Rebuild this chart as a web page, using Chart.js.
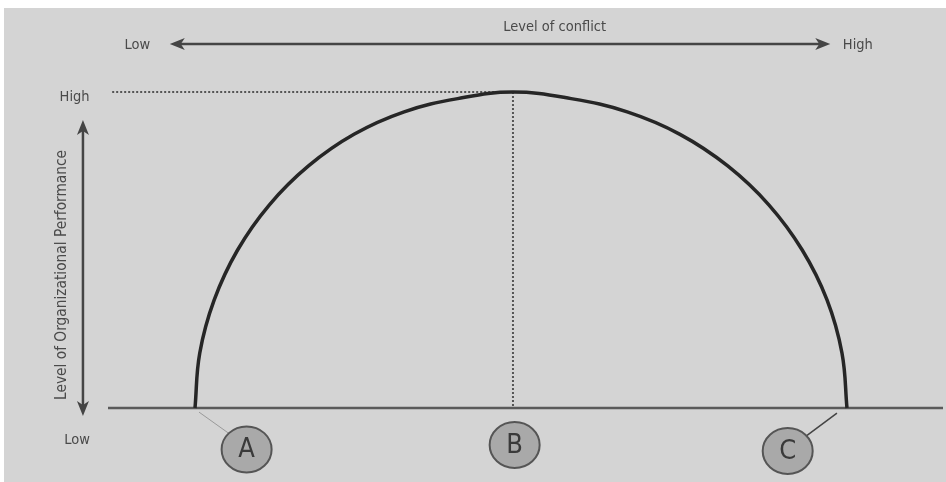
<!DOCTYPE html>
<html>
<head>
<meta charset="utf-8">
<script src="https://cdn.jsdelivr.net/npm/chart.js@4"></script>
<style>
  html, body { margin: 0; padding: 0; background: #fff; }
  canvas { display: block; }
</style>
</head>
<body>
<canvas id="myChart" width="946" height="482"></canvas>
<script>
// values: level of conflict (0-100) vs performance (0-100)
var conflictLevel = [10.42, 10.99, 12.72, 15.52, 19.33, 24.01, 29.46, 35.47, 41.88, 48.5, 55.46, 62.18, 68.5, 74.22, 79.14, 83.14, 86.11, 87.9, 88.5];
var performance   = [0, 17.4, 34.2, 50.0, 64.3, 76.6, 86.6, 93.7, 97.9, 100, 97.9, 93.7, 86.6, 76.6, 64.3, 50.0, 34.2, 17.4, 0];
var zoneLabels = ['A', 'B', 'C'];
var levelLabels = ['Low', 'High'];
var xTitle = 'Level of conflict';
var yTitle = 'Level of Organizational Performance';

var FONT = '"Liberation Sans Narrow", "DejaVu Sans Condensed", "Liberation Sans", sans-serif';
var TEXT = '#4a4a4a';

function arrowHead(ctx, x, y, angle) {
  ctx.save();
  ctx.translate(x, y);
  ctx.rotate(angle);
  ctx.beginPath();
  ctx.moveTo(0, 0);
  ctx.lineTo(-15, -6);
  ctx.lineTo(-11, 0);
  ctx.lineTo(-15, 6);
  ctx.closePath();
  ctx.fill();
  ctx.restore();
}

var decor = {
  id: 'decor',
  beforeDraw: function(chart) {
    var ctx = chart.ctx;
    ctx.save();
    ctx.fillStyle = '#fff';
    ctx.fillRect(0, 0, chart.width, chart.height);
    ctx.fillStyle = '#d4d4d4';
    ctx.fillRect(4, 8, chart.width - 4, chart.height - 8);
    ctx.restore();
  },
  beforeDatasetsDraw: function(chart) {
    var ctx = chart.ctx, sx = chart.scales.x, sy = chart.scales.y;
    var peak = performance.indexOf(Math.max.apply(null, performance));
    var pkx = sx.getPixelForValue(conflictLevel[peak]);
    var pky = sy.getPixelForValue(performance[peak]);
    ctx.save();
    // baseline
    ctx.strokeStyle = '#5a5a5a';
    ctx.lineWidth = 2.5;
    ctx.beginPath();
    ctx.moveTo(sx.getPixelForValue(0), sy.getPixelForValue(0));
    ctx.lineTo(sx.getPixelForValue(100), sy.getPixelForValue(0));
    ctx.stroke();
    // dotted guides to the peak
    ctx.strokeStyle = '#555';
    ctx.lineWidth = 2;
    ctx.setLineDash([2, 2]);
    ctx.beginPath();
    ctx.moveTo(sx.getPixelForValue(0.5), pky);
    ctx.lineTo(pkx, pky);
    ctx.moveTo(pkx, pky);
    ctx.lineTo(pkx, sy.getPixelForValue(0));
    ctx.stroke();
    ctx.restore();
  },
  afterDatasetsDraw: function(chart) {
    var ctx = chart.ctx, sx = chart.scales.x, sy = chart.scales.y;
    function X(v) { return sx.getPixelForValue(v); }
    function Y(v) { return sy.getPixelForValue(v); }
    ctx.save();

    // top double arrow
    ctx.strokeStyle = '#454545';
    ctx.fillStyle = '#454545';
    ctx.lineWidth = 2.5;
    var ty = Y(115.2), tx0 = X(7.4), tx1 = X(86.5);
    ctx.beginPath();
    ctx.moveTo(tx0 + 8, ty);
    ctx.lineTo(tx1 - 8, ty);
    ctx.stroke();
    arrowHead(ctx, tx0, ty, Math.PI);
    arrowHead(ctx, tx1, ty, 0);

    // left double arrow
    var lx = X(-3.0), ly0 = Y(91.1), ly1 = Y(-2.5);
    ctx.beginPath();
    ctx.moveTo(lx, ly0 + 8);
    ctx.lineTo(lx, ly1 - 8);
    ctx.stroke();
    arrowHead(ctx, lx, ly0, -Math.PI / 2);
    arrowHead(ctx, lx, ly1, Math.PI / 2);

    // texts
    ctx.fillStyle = TEXT;
    ctx.font = '14.5px ' + FONT;
    ctx.textAlign = 'center';
    ctx.textBaseline = 'middle';
    ctx.fillText(xTitle, X(53.5), Y(120.6));
    ctx.fillText(levelLabels[0], X(3.5), Y(114.9));
    ctx.fillText(levelLabels[1], X(89.8), Y(114.9));
    ctx.fillText(levelLabels[1], X(-4.0), Y(98.4));
    ctx.fillText(levelLabels[0], X(-3.7), Y(-10.1));
    ctx.save();
    ctx.translate(X(-5.5), Y(42.1));
    ctx.rotate(-Math.PI / 2);
    ctx.font = '15.3px ' + FONT;
    ctx.fillText(yTitle, 0, 0);
    ctx.restore();

    // connectors to zone markers
    ctx.strokeStyle = '#9a9a9a';
    ctx.lineWidth = 1;
    ctx.beginPath();
    ctx.moveTo(X(10.9), Y(-1.3));
    ctx.lineTo(X(14.4), Y(-7.9));
    ctx.stroke();
    ctx.strokeStyle = '#444';
    ctx.lineWidth = 1.5;
    ctx.beginPath();
    ctx.moveTo(X(87.3), Y(-1.6));
    ctx.lineTo(X(83.6), Y(-8.9));
    ctx.stroke();

    // zone markers
    var cx = [16.6, 48.7, 81.4], cy = [-13.1, -11.7, -13.6];
    for (var i = 0; i < zoneLabels.length; i++) {
      var px = X(cx[i]), py = Y(cy[i]);
      ctx.beginPath();
      ctx.ellipse(px, py, 25, 23, 0, 0, Math.PI * 2);
      ctx.fillStyle = '#a9a9a9';
      ctx.fill();
      ctx.strokeStyle = '#555';
      ctx.lineWidth = 2;
      ctx.stroke();
      ctx.fillStyle = '#3a3a3a';
      ctx.font = '27px ' + FONT;
      ctx.fillText(zoneLabels[i], px, py + 1);
    }
    ctx.restore();
  }
};

function makeChart() {
  var ctx = document.getElementById('myChart').getContext('2d');
  var points = conflictLevel.map(function(v, i) { return { x: v, y: performance[i] }; });
  new Chart(ctx, {
    type: 'scatter',
    data: {
      datasets: [{
        data: points,
        showLine: true,
        borderColor: '#262626',
        borderWidth: 3.5,
        tension: 0.4,
        pointRadius: 0,
        clip: false
      }]
    },
    options: {
      responsive: false,
      animation: false,
      layout: { padding: { left: 108, right: 3, top: 92, bottom: 74 } },
      plugins: { legend: { display: false }, tooltip: { enabled: false } },
      scales: {
        x: { type: 'linear', min: 0, max: 100, display: false },
        y: { min: 0, max: 100, display: false }
      }
    },
    plugins: [decor]
  });
}

makeChart();
</script>
</body>
</html>
